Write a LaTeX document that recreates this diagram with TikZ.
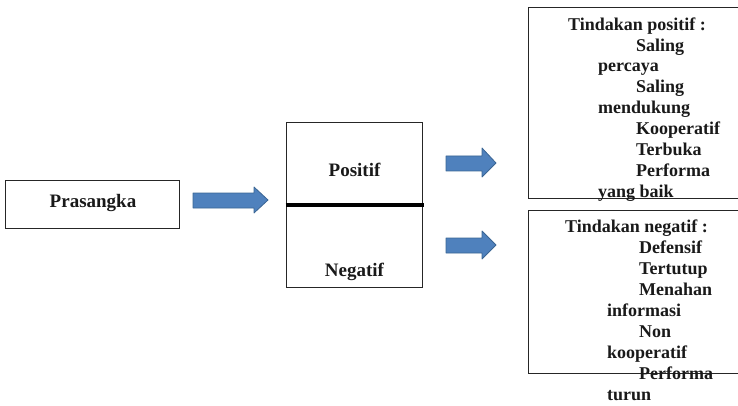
\documentclass[tikz,border=0pt]{standalone}
\usepackage{fontspec}
\setmainfont{Liberation Serif}
\begin{document}
\begin{tikzpicture}[x=1pt,y=-1pt,
  box/.style={draw=black!85, line width=0.9pt, inner sep=0pt},
  lbl/.style={inner sep=0pt, font=\bfseries\fontsize{19}{22}\selectfont, text=black!90},
  item/.style={inner sep=0pt, anchor=base west, font=\bfseries\fontsize{18}{21}\selectfont, text=black!90},
  blockarrow/.style={fill=arrowfill, draw=arrowline, line width=0.8pt, line join=round}]
\definecolor{arrowfill}{HTML}{4F81BD}
\definecolor{arrowline}{HTML}{3A6594}
\useasboundingbox (0,0) rectangle (738,406);
\begin{scope}
\clip (0,0) rectangle (738,406);
% left box
\node[box, minimum width=174pt, minimum height=48pt] (pr) at (92.5,204) {};
\node[lbl, anchor=base] (prt) at (93,207) {Prasangka};
% middle box
\node[box, minimum width=136pt, minimum height=165pt] (mid) at (354,204.5) {};
\draw[line width=4pt] (mid.west) -- ([xshift=2pt]mid.east);
\node[lbl, anchor=base] (pos) at (354.5,176) {Positif};
\node[lbl, anchor=base] (neg) at (354.5,276) {Negatif};
% right boxes (right side runs past the picture edge)
\node[box, minimum width=260pt, minimum height=191pt] (b1) at (658,102.5) {};
\node[box, minimum width=260pt, minimum height=163pt] (b2) at (658,291.5) {};
% block arrows
\draw[blockarrow] (193,193) -- (254,193) -- (254,187) -- (268,200) -- (254,213) -- (254,208) -- (193,208) -- cycle;
\draw[blockarrow] (446,156) -- (482,156) -- (482,148) -- (496,163) -- (482,177) -- (482,171) -- (446,171) -- cycle;
\draw[blockarrow] (446,238) -- (482,238) -- (482,231) -- (496,245) -- (482,259) -- (482,253) -- (446,253) -- cycle;
% box 1 text
\node[item] (p0) at (568,31) {Tindakan positif :};
\node[item] (p1) at (636,52) {Saling};
\node[item] (p2) at (598,72) {percaya};
\node[item] (p3) at (636,93) {Saling};
\node[item] (p4) at (598,114) {mendukung};
\node[item] (p5) at (636,135) {Kooperatif};
\node[item] (p6) at (636,156) {Terbuka};
\node[item] (p7) at (636,176) {Performa};
\node[item] (p8) at (598,197) {yang baik};
% box 2 text
\node[item] (n0) at (565,232) {Tindakan negatif :};
\node[item] (n1) at (639,253) {Defensif};
\node[item] (n2) at (639,274) {Tertutup};
\node[item] (n3) at (639,295) {Menahan};
\node[item] (n4) at (607,316) {informasi};
\node[item] (n5) at (639,337) {Non};
\node[item] (n6) at (607,358) {kooperatif};
\node[item] (n7) at (639,379) {Performa};
\node[item] (n8) at (607,400) {turun};
\end{scope}
\end{tikzpicture}
\end{document}
